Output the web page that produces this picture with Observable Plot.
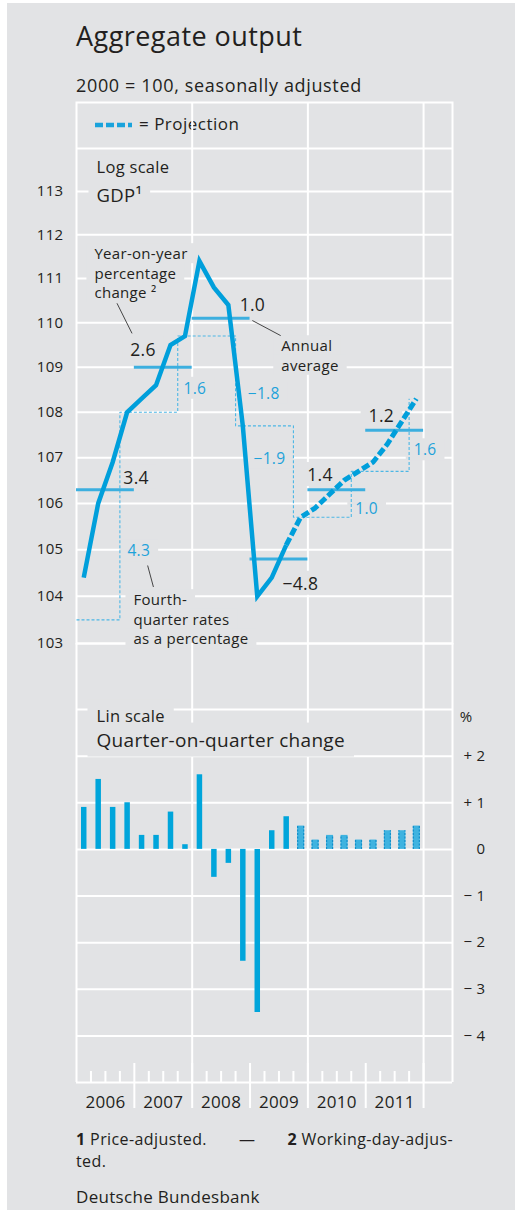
<!DOCTYPE html>
<html>
<head>
<meta charset="utf-8">
<script src="https://cdn.jsdelivr.net/npm/d3@7"></script>
<script src="https://cdn.jsdelivr.net/npm/@observablehq/plot@0.6"></script>
<style>
  html, body { margin: 0; padding: 0; background: #ffffff; }
  #page { position: relative; width: 515px; height: 1210px; overflow: hidden;
          font-family: "Open Sans", sans-serif; color: #231f20; }
  #bg { position: absolute; left: 7px; top: 3px; right: 0; bottom: 0; background: #e2e3e5; }
  .abs { position: absolute; white-space: nowrap; line-height: 1; }
  #page svg.plot { position: absolute; left: 0; }
  #foot { position: absolute; left: 76px; top: 1128px; width: 377px; font-size: 16px; letter-spacing: 0.4px;
          line-height: 22px; white-space: nowrap; }
  #foot .l1 { display: flex; justify-content: space-between; }
</style>
</head>
<body>
<div id="page">
  <div id="bg"></div>
  <div class="abs" style="left:76px; top:22px; font-size:27px; letter-spacing:0.45px;">Aggregate output</div>
  <div class="abs" style="left:76px; top:76px; font-size:18px; letter-spacing:0.65px;">2000 = 100, seasonally adjusted</div>
  <svg class="abs" style="left:94px; top:120px;" width="40" height="10">
    <line x1="1" y1="5" x2="38" y2="5" stroke="#1aa3dc" stroke-width="4.5" stroke-dasharray="8,3"></line>
  </svg>
  <div class="abs" style="left:139px; top:115px; font-size:17px; letter-spacing:0.5px;">= Projection</div>
  <div id="charts"></div>
  <div id="foot"><div class="l1"><span><b>1</b> Price-adjusted.</span><span>—</span><span><b>2</b> Working-day-adjus-</span></div>ted.</div>
  <div class="abs" style="left:76px; top:1188px; font-size:17px; letter-spacing:0.3px;">Deutsche Bundesbank</div>
</div>
<script>
// ---------------- data ----------------
const quarters = ["2006Q1","2006Q2","2006Q3","2006Q4","2007Q1","2007Q2","2007Q3","2007Q4",
                  "2008Q1","2008Q2","2008Q3","2008Q4","2009Q1","2009Q2","2009Q3","2009Q4",
                  "2010Q1","2010Q2","2010Q3","2010Q4","2011Q1","2011Q2","2011Q3","2011Q4"];
const gdp = [104.4, 106.0, 106.9, 108.0, 108.3, 108.6, 109.5, 109.7,
             111.4, 110.8, 110.4, 107.7, 104.0, 104.4, 105.1, 105.7,
             105.9, 106.2, 106.5, 106.7, 106.9, 107.3, 107.8, 108.3];
const qoq = [0.9, 1.5, 0.9, 1.0, 0.3, 0.3, 0.8, 0.1,
             1.6, -0.6, -0.3, -2.4, -3.5, 0.4, 0.7, 0.5,
             0.2, 0.3, 0.3, 0.2, 0.2, 0.4, 0.4, 0.5];
const lastActual = "2009Q3";
const years = [2006, 2007, 2008, 2009, 2010, 2011];
const annualAvg = [106.3, 109.0, 110.1, 104.8, 106.3, 107.6];
const annualChange = [3.4, 2.6, 1.0, -4.8, 1.4, 1.2];
const q4Change = [4.3, 1.6, -1.8, -1.9, 1.0, 1.6];
const gdpQ4Prior = 103.5;            // level of 2005 Q4
const logTicks = [103, 104, 105, 106, 107, 108, 109, 110, 111, 112, 113];
const logGrid = [103, 104, 105, 106, 107, 108, 109, 110, 111, 112, 113, 114];
const linTicks = [2, 1, 0, -1, -2, -3, -4];
const linGrid = [3, 2, 1, 0, -1, -2, -3, -4, -5];

// ---------------- annotation layout (data coordinates) ----------------
const annualLabelAt = [[2006.81, 106.55], [2006.93, 109.38], [2008.82, 110.39],
                       [2009.56, 104.26], [2009.99, 106.61], [2011.05, 107.90]];
const q4LabelAt = [[2006.88, 104.97], [2007.85, 108.52], [2008.96, 108.41],
                   [2009.06, 106.97], [2010.82, 105.87], [2011.83, 107.16]];
const notes = [
  {text: "Year-on-year\npercentage\nchange \u00b2", at: [2006.31, 111.14], from: [2006.70, 110.44], to: [2006.96, 109.76]},
  {text: "Annual\naverage", at: [2009.54, 109.28], from: [2009.04, 110.05], to: [2009.53, 109.71]},
  {text: "Fourth-\nquarter rates\nas a percentage", at: [2006.985, 103.53], from: [2007.23, 104.66], to: [2007.33, 104.20]}
];

// ---------------- styling ----------------
const W = 515;
const bg = "#e2e3e5", ink = "#231f20", grid = "#ffffff";
const lineBlue = "#009fdb", avgBlue = "#3cafdf", q4Blue = "#4cb7e5", labelBlue = "#1ea2da";
const barBlue = "#00a5db", projFill = "#3fb3e0", projEdge = "#138fca";
const font = '"Open Sans", sans-serif';
const fmt = v => d3.format(".1f")(v).replace("-", "\u2212");
const xDomain = [2006, 2012.5];

const qx = q => { const [y, n] = q.split("Q").map(Number); return y + (n - 0.5) / 4; };
const iLast = quarters.indexOf(lastActual);
const rows = quarters.map((q, i) => ({q, x: qx(q), gdp: gdp[i], qoq: qoq[i], i}));
const actual = rows.filter(d => d.i <= iLast);
const projected = rows.filter(d => d.i >= iLast);
const q4Steps = [{x: xDomain[0], y: gdpQ4Prior},
  ...years.map(y => ({x: y + 0.75, y: rows.find(r => r.q === y + "Q4").gdp}))];

// ---------------- top panel (log scale) ----------------
const topH = 709, topMT = 102, topMB = 66;
const topChart = Plot.plot({
  width: W, height: topH,
  marginLeft: 76, marginRight: 63, marginTop: topMT, marginBottom: topMB,
  x: {domain: xDomain, axis: null},
  y: {type: "log", domain: [103, 115.08], axis: null},
  style: {fontFamily: font, color: ink, background: "transparent", overflow: "visible", letterSpacing: "0.3px"},
  marks: [
    Plot.ruleY(logGrid, {stroke: grid, strokeWidth: 2}),
    Plot.ruleX([2008, 2010, 2012], {stroke: grid, strokeWidth: 2}),
    Plot.frame({stroke: grid, strokeWidth: 2}),
    Plot.axisY({ticks: logTicks, anchor: "left", tickSize: 0, tickPadding: 13, fontSize: 15,
                tickFormat: d3.format("d"), label: null}),
    Plot.text(["Log scale"], {frameAnchor: "top-left", lineAnchor: "middle", dx: 20, dy: 65, textAnchor: "start",
              fontSize: 16.5, fill: ink, ariaDescription: "boxed"}),
    Plot.text(["GDP\u00b9"], {frameAnchor: "top-left", lineAnchor: "middle", dx: 20, dy: 94, textAnchor: "start",
              fontSize: 18.5, fill: ink, ariaDescription: "boxed"}),
    Plot.text(notes, {x: d => d.at[0], y: d => d.at[1], text: "text", textAnchor: "start",
              lineHeight: 1.3, fontSize: 15, fill: ink, ariaDescription: "boxed"}),
    Plot.text(years, {x: (d, i) => annualLabelAt[i][0], y: (d, i) => annualLabelAt[i][1],
              text: (d, i) => fmt(annualChange[i]), textAnchor: "start", fontSize: 17.5,
              fill: ink, ariaDescription: "boxed"}),
    Plot.text(years, {x: (d, i) => q4LabelAt[i][0], y: (d, i) => q4LabelAt[i][1],
              text: (d, i) => fmt(q4Change[i]), textAnchor: "start", fontSize: 15.5,
              fill: labelBlue, ariaDescription: "boxed"}),
    Plot.link(notes, {x1: d => d.from[0], y1: d => d.from[1], x2: d => d.to[0], y2: d => d.to[1],
              stroke: "#333333", strokeWidth: 0.9}),
    Plot.line(q4Steps, {x: "x", y: "y", curve: "step-after", stroke: q4Blue,
              strokeWidth: 1.1, strokeDasharray: "3,2", strokeLinecap: "butt", strokeLinejoin: "miter"}),
    Plot.ruleY(years, {x1: d => d, x2: d => d + 1, y: (d, i) => annualAvg[i],
              stroke: avgBlue, strokeWidth: 3}),
    Plot.line(actual, {x: "x", y: "gdp", stroke: lineBlue, strokeWidth: 4.5,
              strokeLinejoin: "miter", strokeMiterlimit: 6, strokeLinecap: "butt"}),
    Plot.line(projected, {x: "x", y: "gdp", stroke: lineBlue, strokeWidth: 5,
              strokeDasharray: "8,3", strokeLinejoin: "miter", strokeLinecap: "butt"})
  ]
});

// ---------------- bottom panel (linear scale) ----------------
const botTop = 643, botH = 480, botMT = 66, botMB = 41;
const inner = botH - botMT - botMB;
const per = (3 - (-5)) / inner;             // data units per pixel
const minorTicks = years.flatMap(y => [y + 0.25, y + 0.5, y + 0.75]);
const yearEdges = [2007, 2008, 2009, 2010, 2011, 2012];
const solidBars = rows.filter(d => d.i <= iLast);
const projBars = rows.filter(d => d.i > iLast);
const sign = v => v > 0 ? "+ " + v : v < 0 ? "\u2212 " + (-v) : "0";

const bottomChart = Plot.plot({
  width: W, height: botH,
  marginLeft: 76, marginRight: 63, marginTop: botMT, marginBottom: botMB,
  x: {domain: xDomain, axis: null},
  y: {domain: [-5, 3], axis: null},
  style: {fontFamily: font, color: ink, background: "transparent", overflow: "visible", letterSpacing: "0.3px"},
  marks: [
    Plot.ruleY(linGrid, {stroke: grid, strokeWidth: 2}),
    Plot.ruleX([2006, 2008, 2010, 2012, 2012.5], {y1: -5, y2: 3 + botMT * per, stroke: grid, strokeWidth: 2}),
    Plot.ruleX(minorTicks, {y1: -5, y2: -5 + 11 * per, stroke: grid, strokeWidth: 2}),
    Plot.ruleX(yearEdges, {y1: -5 - 26 * per, y2: -5 + 19 * per, stroke: grid, strokeWidth: 2}),
    Plot.text(["Lin scale"], {frameAnchor: "top-left", lineAnchor: "middle", dx: 20, dy: 7, textAnchor: "start",
              fontSize: 16.5, fill: ink, ariaDescription: "boxed"}),
    Plot.text(["Quarter-on-quarter change"], {frameAnchor: "top-left", lineAnchor: "middle", dx: 20, dy: 31,
              textAnchor: "start", fontSize: 19, fill: ink, ariaDescription: "boxed"}),
    Plot.text(years, {x: d => d + 0.5, y: -5, dy: 20, text: d => String(d), fontSize: 17, fill: ink}),
    Plot.text(linTicks, {y: d => d, frameAnchor: "right", dx: 33, textAnchor: "end",
              text: sign, fontSize: 15, fill: ink}),
    Plot.text(["%"], {frameAnchor: "top-right", lineAnchor: "middle", dx: 20, dy: 8, fontSize: 15, fill: ink}),
    Plot.ruleX(solidBars, {x: "x", y1: 0, y2: "qoq", stroke: barBlue, strokeWidth: 5.5}),
    Plot.ruleX(projBars, {x: "x", y1: 0, y2: "qoq", stroke: projFill, strokeWidth: 7}),
    Plot.ruleX(projBars, {x: "x", y1: 0, y2: "qoq", dx: -3, stroke: projEdge, strokeWidth: 1.2, strokeDasharray: "2,1.5"}),
    Plot.ruleX(projBars, {x: "x", y1: 0, y2: "qoq", dx: 3, stroke: projEdge, strokeWidth: 1.2, strokeDasharray: "2,1.5"})
  ]
});

const host = document.getElementById("charts");
topChart.classList.add("plot"); topChart.style.top = "0px";
bottomChart.classList.add("plot"); bottomChart.style.top = botTop + "px";
host.appendChild(topChart);
host.appendChild(bottomChart);

// grey boxes behind labels (they interrupt the grid as in the original)
function addBoxes(svg, padX, padY) {
  const root = svg.getBoundingClientRect();
  svg.querySelectorAll('g[aria-description="boxed"]').forEach(g => {
    g.querySelectorAll("text").forEach(t => {
      const parts = t.querySelectorAll("tspan").length ? t.querySelectorAll("tspan") : [t];
      parts.forEach(p => {
        const b = p.getBoundingClientRect();
        const r = document.createElementNS("http://www.w3.org/2000/svg", "rect");
        r.setAttribute("x", b.left - root.left - padX);
        r.setAttribute("y", b.top - root.top - padY);
        r.setAttribute("width", b.width + 2 * padX);
        r.setAttribute("height", b.height + 2 * padY);
        r.setAttribute("fill", bg);
        g.parentNode.insertBefore(r, g);
      });
    });
  });
}
addBoxes(topChart, 8, 0);
addBoxes(bottomChart, 9, 4);
</script>
</body>
</html>
